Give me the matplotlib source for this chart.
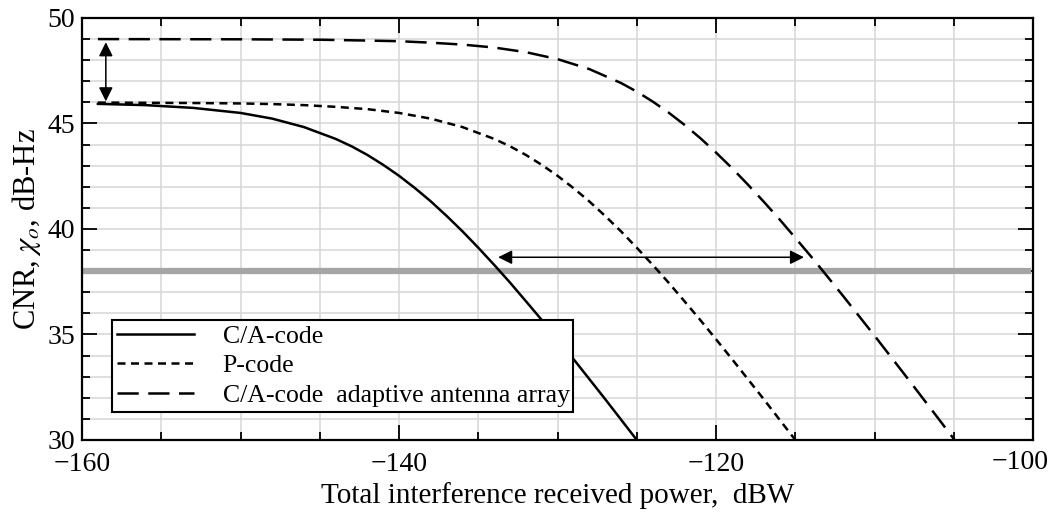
import matplotlib
matplotlib.use("Agg")
import matplotlib.pyplot as plt
from matplotlib.ticker import MultipleLocator, FixedLocator

plt.rcParams['font.family'] = ['Liberation Serif', 'DejaVu Serif']
plt.rcParams['mathtext.fontset'] = 'stix'

# C/A-code receiver
ca_x = [-159, -156, -153, -150, -148, -146, -144, -143, -142, -141, -140, -139, -138,
        -137, -136, -135, -134, -133, -132, -131, -130, -129, -128, -127, -126, -125]
ca_y = [45.93, 45.87, 45.74, 45.50, 45.23, 44.83, 44.27, 43.92, 43.51, 43.04, 42.52, 41.94, 41.31,
        40.62, 39.89, 39.11, 38.30, 37.46, 36.58, 35.69, 34.77, 33.84, 32.89, 31.94, 30.97, 30.00]

# P-code receiver
p_x = [-159, -156, -153, -150, -148, -146, -144, -142, -140, -138, -136, -134, -133, -132,
       -131, -130, -129, -128, -127, -126, -125, -124, -123, -122, -121, -120, -119, -118,
       -117, -116, -115]
p_y = [45.99, 45.98, 45.97, 45.95, 45.92, 45.87, 45.79, 45.68, 45.50, 45.23, 44.83, 44.27, 43.92, 43.51,
       43.04, 42.52, 41.94, 41.31, 40.62, 39.89, 39.11, 38.30, 37.46, 36.58, 35.69, 34.77, 33.84, 32.89,
       31.94, 30.97, 30.00]

# C/A-code with adaptive antenna array
aa_x = [-159, -150, -145, -142, -140, -138, -136, -134, -132, -130, -128, -126, -125, -124,
        -123, -122, -121, -120, -119, -118, -117, -116, -115, -114, -113, -112, -111, -110,
        -109, -108, -107, -106, -105, -104.95]
aa_y = [49.00, 48.99, 48.97, 48.93, 48.90, 48.83, 48.74, 48.60, 48.38, 48.05, 47.58, 46.92, 46.51, 46.04,
        45.52, 44.94, 44.31, 43.62, 42.89, 42.11, 41.30, 40.46, 39.58, 38.69, 37.77, 36.84, 35.89, 34.94,
        33.97, 33.00, 32.02, 31.04, 30.05, 30.00]

labels = ['C/A-code', 'P-code', 'C/A-code  adaptive antenna array']
xticks = [-160, -140, -120, -100]
xtick_labels = ['\u2212160', '\u2212140', '\u2212120', '\u2212100']
threshold = 38

fig = plt.figure(figsize=(10.52, 5.14), dpi=100)
ax = fig.add_axes([0.078, 0.144, 0.904, 0.821])

ax.set_xlim(-160, -100)
ax.set_ylim(30, 50)
ax.xaxis.set_major_locator(FixedLocator(xticks))
ax.xaxis.set_minor_locator(MultipleLocator(5))
ax.yaxis.set_major_locator(MultipleLocator(5))
ax.yaxis.set_minor_locator(MultipleLocator(1))
ax.grid(True, which='both', color='#d6d6d6', lw=1.1)
ax.set_axisbelow(True)

ax.axhline(threshold, xmin=0, xmax=0.995, color='#a5a5a5', lw=4.5, zorder=1.5)

ax.plot(ca_x, ca_y, color='k', lw=1.8, label=labels[0])
ax.plot(p_x, p_y, color='k', lw=1.8, ls=(0, (3.2, 2.2)), label=labels[1])
ax.plot(aa_x, aa_y, color='k', lw=1.8, ls=(0, (8.5, 3.8)), label=labels[2])

arrow = dict(arrowstyle='<|-|>', color='k', lw=1.1, mutation_scale=21,
             shrinkA=0, shrinkB=0)
ax.annotate('', xy=(-158.5, 46.05), xytext=(-158.5, 48.85), arrowprops=arrow)
ax.annotate('', xy=(-133.75, 38.66), xytext=(-114.45, 38.66), arrowprops=arrow)

ax.tick_params(which='both', direction='in', top=True, right=True, width=1.3,
               labelsize=20)
ax.tick_params(axis='x', pad=9)
ax.tick_params(axis='y', pad=5)
ax.tick_params(which='major', length=11)
ax.tick_params(which='minor', length=6)
for s in ax.spines.values():
    s.set_linewidth(1.6)

# last x label is pulled left a little so it stays inside the figure
ax.set_xticklabels(xtick_labels[:-1] + [''])
ax.annotate(xtick_labels[-1], xy=(xticks[-1], 30), xycoords='data',
            xytext=(-9, -9 * 0.72 - 0.5), textcoords='offset points',
            ha='center', va='top', fontsize=20)

ax.set_xlabel('Total interference received power,  dBW', fontsize=21, labelpad=3)
ax.set_ylabel(r'CNR, $\chi_{o}$, dB-Hz', fontsize=22, labelpad=3)

leg = ax.legend(loc='upper left', bbox_to_anchor=(0.0317, 0.0665, 0.485, 0.218),
                mode='expand', fontsize=18.5, handlelength=3.0, handletextpad=1.1,
                borderpad=0.2, borderaxespad=0, labelspacing=0.25,
                fancybox=False, framealpha=1, edgecolor='k')
leg.get_frame().set_linewidth(1.5)

fig.savefig('out.png', dpi=100)
